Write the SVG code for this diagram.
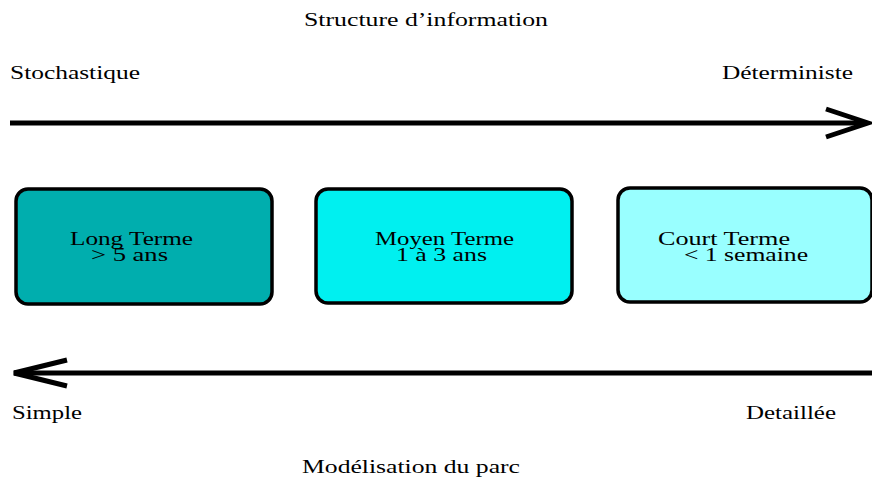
<svg xmlns="http://www.w3.org/2000/svg" width="872" height="481" viewBox="0 0 872 481">
<style>
text{font-family:"Liberation Serif","DejaVu Serif",serif;font-size:19px;fill:#000}
.box{stroke:#000;stroke-width:3.5}
.ln{stroke:#000;stroke-width:5;fill:none}
.hd{stroke:#000;stroke-width:5;fill:none;stroke-linecap:butt}
</style>
<rect width="872" height="481" fill="#fff"/>
<g id="labels">
<text x="304" y="26" textLength="244" lengthAdjust="spacingAndGlyphs">Structure d’information</text>
<text x="10" y="79" textLength="130" lengthAdjust="spacingAndGlyphs">Stochastique</text>
<text x="722" y="79" textLength="131" lengthAdjust="spacingAndGlyphs">Déterministe</text>
<text x="12" y="419" textLength="70" lengthAdjust="spacingAndGlyphs">Simple</text>
<text x="746" y="419" textLength="90" lengthAdjust="spacingAndGlyphs">Detaillée</text>
<text x="302" y="473" textLength="218" lengthAdjust="spacingAndGlyphs">Modélisation du parc</text>
</g>
<g id="connectors">
<line class="ln" x1="10" y1="123" x2="866" y2="123"/>
<polyline class="hd" points="826,109 868,123 826,137"/>
<line class="ln" x1="872" y1="373" x2="14" y2="373"/>
<polyline class="hd" points="67,360 14,373 67,386"/>
</g>
<g id="node-long">
<rect class="box" x="16" y="189" width="256" height="115" rx="12" fill="#00AEAE"/>
<text x="70" y="245" textLength="123" lengthAdjust="spacingAndGlyphs">Long Terme</text>
<text x="91" y="261" textLength="77" lengthAdjust="spacingAndGlyphs">&gt; 5 ans</text>
</g>
<g id="node-moyen">
<rect class="box" x="316" y="189" width="256" height="114" rx="12" fill="#00F0F0"/>
<text x="375" y="245" textLength="139" lengthAdjust="spacingAndGlyphs">Moyen Terme</text>
<text x="396" y="261" textLength="91" lengthAdjust="spacingAndGlyphs">1 à 3 ans</text>
</g>
<g id="node-court">
<rect class="box" x="618" y="188" width="254" height="114" rx="12" fill="#99FFFF"/>
<text x="658" y="245" textLength="132" lengthAdjust="spacingAndGlyphs">Court Terme</text>
<text x="684" y="261" textLength="124" lengthAdjust="spacingAndGlyphs">&lt; 1 semaine</text>
</g>
</svg>
